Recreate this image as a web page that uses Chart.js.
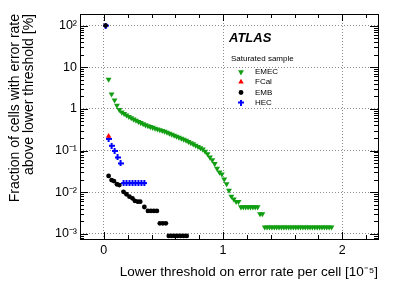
<!DOCTYPE html>
<html>
<head>
<meta charset="utf-8">
<script src="https://cdn.jsdelivr.net/npm/chart.js@4.4.0/dist/chart.umd.min.js"></script>
<style>
  html, body { margin: 0; padding: 0; background: #fff; }
</style>
</head>
<body>
<canvas id="errChart" width="399" height="286"></canvas>
<script>
// values
const emecX = [0.04, 0.065, 0.09, 0.11, 0.13,
  0.15, 0.17, 0.19, 0.21, 0.23, 0.25, 0.27, 0.29, 0.31, 0.33, 0.35, 0.37, 0.39, 0.41, 0.43, 0.45, 0.47, 0.49,
  0.51, 0.53, 0.55, 0.57, 0.59, 0.61, 0.63, 0.65, 0.67, 0.69, 0.71, 0.73, 0.75, 0.77, 0.79, 0.81, 0.83, 0.85,
  0.87, 0.89, 0.91, 0.93, 0.95, 0.97, 0.99, 1.01, 1.03, 1.05, 1.07, 1.09, 1.11, 1.13,
  1.15, 1.17, 1.19, 1.21, 1.23, 1.25, 1.27, 1.29, 1.31, 1.33,
  1.35, 1.37, 1.39, 1.41, 1.43, 1.45, 1.47, 1.49, 1.51, 1.53, 1.55, 1.57, 1.59, 1.61, 1.63, 1.65, 1.67, 1.69,
  1.71, 1.73, 1.75, 1.77, 1.79, 1.81, 1.83, 1.85, 1.87, 1.89, 1.91];
const emecY = [5.1, 2.25, 1.62, 1.21, 0.95,
  0.83, 0.766, 0.705, 0.652, 0.605, 0.562, 0.527, 0.494, 0.464, 0.437, 0.41, 0.389, 0.372, 0.356, 0.341, 0.327, 0.314, 0.301,
  0.287, 0.272, 0.257, 0.243, 0.230, 0.218, 0.206, 0.195, 0.185, 0.175, 0.164, 0.153, 0.143, 0.133, 0.124, 0.116, 0.107, 0.0955,
  0.083, 0.069, 0.059, 0.048, 0.037, 0.030, 0.027, 0.0204, 0.0158, 0.011, 0.0079, 0.0068, 0.0059, 0.0059,
  0.0044, 0.0044, 0.0044, 0.0044, 0.0044, 0.0044, 0.0044, 0.0044, 0.003, 0.003,
  0.00145, 0.00145, 0.00145, 0.00145, 0.00145, 0.00145, 0.00145, 0.00145, 0.00145, 0.00145, 0.00145, 0.00145, 0.00145, 0.00145,
  0.00145, 0.00145, 0.00145, 0.00145, 0.00145, 0.00145, 0.00145, 0.00145, 0.00145, 0.00145, 0.00145, 0.00145, 0.00145, 0.00145, 0.00145];

const fcalX = [0.04];
const fcalY = [0.22];

const embX = [0.015, 0.04, 0.065, 0.085, 0.11, 0.13, 0.165, 0.19, 0.215, 0.24, 0.26, 0.285, 0.305, 0.34,
  0.37, 0.395, 0.42, 0.445, 0.47, 0.495, 0.52, 0.545, 0.57, 0.595, 0.62, 0.645, 0.67, 0.695];
const embY = [100, 0.0245, 0.0195, 0.0185, 0.0155, 0.0148, 0.0102, 0.0089, 0.0078, 0.0071, 0.0062, 0.0059, 0.0059, 0.0044,
  0.00355, 0.00355, 0.00355, 0.00355, 0.00178, 0.00178, 0.00178, 0.00089, 0.00089, 0.00089, 0.00089, 0.00089, 0.00089, 0.00089];

const hecX = [0.015, 0.04, 0.065, 0.09, 0.115, 0.14, 0.165, 0.19, 0.215, 0.24, 0.265, 0.29, 0.315, 0.34];
const hecY = [100, 0.19, 0.13, 0.098, 0.068, 0.049, 0.0165, 0.0165, 0.0165, 0.0165, 0.0165, 0.0165, 0.0165, 0.0165];

const xTicks = [0, 1, 2];
const yTicks = [1e-3, 1e-2, 1e-1, 1, 10, 100];
const yTickLabels = ['10\u207B\u00B3', '10\u207B\u00B2', '10\u207B\u00B9', '1', '10', '10\u00B2'];

const FONT = '"Liberation Sans", Arial, Helvetica, sans-serif';

// filled plus marker for HEC (ROOT style 34)
function plusMarker(color) {
  const c = document.createElement('canvas');
  c.width = 6; c.height = 6;
  const g = c.getContext('2d');
  g.fillStyle = color;
  g.fillRect(2, 0, 2, 6);
  g.fillRect(0, 2, 6, 2);
  return c;
}
const hecMarker = plusMarker('#0000ff');

function pts(xs, ys) {
  return xs.map((x, i) => ({ x: x, y: ys[i] }));
}

const datasets = [
  { label: 'EMEC', data: pts(emecX, emecY), pointStyle: 'triangle', rotation: 180, radius: 3.4,
    backgroundColor: '#129e12', borderColor: '#129e12', borderWidth: 0 },
  { label: 'FCal', data: pts(fcalX, fcalY), pointStyle: 'triangle', rotation: 0, radius: 3.2,
    backgroundColor: '#ff0000', borderColor: '#ff0000', borderWidth: 0 },
  { label: 'EMB', data: pts(embX, embY), pointStyle: 'circle', radius: 2.4,
    backgroundColor: '#000000', borderColor: '#000000', borderWidth: 0 },
  { label: 'HEC', data: pts(hecX, hecY), pointStyle: hecMarker, radius: 3,
    backgroundColor: '#0000ff', borderColor: '#0000ff', borderWidth: 0 }
];

// inner ticks on all four sides + frame, ROOT style
const frameTicks = {
  id: 'frameTicks',
  afterDatasetsDraw(chart) {
    const ctx = chart.ctx;
    const a = chart.chartArea;
    const xs = chart.scales.x, ys = chart.scales.y;
    ctx.save();
    ctx.strokeStyle = '#000';
    ctx.lineWidth = 1;
    ctx.beginPath();
    // x ticks every 0.2, major at integers
    for (let k = -1; k <= 11; k++) {
      const v = k * 0.2;
      const px = Math.round(xs.getPixelForValue(v)) + 0.5;
      if (px < a.left || px > a.right) continue;
      const len = (k % 5 === 0) ? 7 : 4;
      ctx.moveTo(px, a.bottom); ctx.lineTo(px, a.bottom - len);
      ctx.moveTo(px, a.top); ctx.lineTo(px, a.top + len);
    }
    // y ticks: decades major, 2..9 minor
    for (let e = -4; e <= 2; e++) {
      for (let m = 1; m <= 9; m++) {
        const v = m * Math.pow(10, e);
        const py = Math.round(ys.getPixelForValue(v)) + 0.5;
        if (py < a.top || py > a.bottom) continue;
        const len = (m === 1) ? 8 : 4;
        ctx.moveTo(a.left, py); ctx.lineTo(a.left + len, py);
        ctx.moveTo(a.right, py); ctx.lineTo(a.right - len, py);
      }
    }
    ctx.stroke();
    ctx.strokeRect(Math.round(a.left) + 0.5, Math.round(a.top) + 0.5,
      Math.round(a.right - a.left), Math.round(a.bottom - a.top));
    ctx.restore();
  }
};

// legend box with ATLAS label, drawn inside the frame
const atlasLegend = {
  id: 'atlasLegend',
  afterDraw(chart) {
    const ctx = chart.ctx;
    ctx.save();
    ctx.fillStyle = '#000';
    ctx.textBaseline = 'middle';
    ctx.font = 'italic bold 13px ' + FONT;
    ctx.fillText('ATLAS', 229, 38);
    ctx.font = '8px ' + FONT;
    ctx.fillText('Saturated sample', 231, 59);
    const rows = [72, 82, 92.5, 102.5];
    chart.data.datasets.forEach((ds, i) => {
      ctx.fillStyle = ds.backgroundColor;
      ctx.strokeStyle = ds.borderColor;
      Chart.helpers.drawPoint(ctx, {
        pointStyle: ds.pointStyle, rotation: ds.rotation || 0,
        radius: ds.radius, borderWidth: 0
      }, 241, rows[i]);
      ctx.fillStyle = '#000';
      ctx.fillText(ds.label, 255, rows[i]);
    });
    ctx.restore();
  }
};

new Chart(document.getElementById('errChart'), {
  type: 'scatter',
  data: { datasets: datasets },
  plugins: [frameTicks, atlasLegend],
  options: {
    responsive: false,
    animation: false,
    layout: { padding: { top: 14, right: 21, left: 0, bottom: 0 } },
    plugins: { legend: { display: false }, tooltip: { enabled: false } },
    elements: { point: { hoverRadius: 0 } },
    scales: {
      x: {
        type: 'linear',
        min: -0.2,
        max: 2.3,
        afterBuildTicks: (s) => { s.ticks = xTicks.map(v => ({ value: v })); },
        afterFit: (s) => { s.height = 47; },
        grid: { color: '#8c8c8c', lineWidth: 1, drawTicks: false },
        border: { display: false, dash: [1, 2] },
        ticks: { color: '#000', padding: 4, font: { family: FONT, size: 12.5 },
          callback: (v) => String(v) },
        title: { display: true, align: 'end', text: 'Lower threshold on error rate per cell [10\u207B\u2075]',
          color: '#000', font: { family: FONT, size: 13.5 }, padding: { top: 6, bottom: 6 } }
      },
      y: {
        type: 'logarithmic',
        min: 7.5e-4,
        max: 190,
        afterBuildTicks: (s) => { s.ticks = yTicks.map(v => ({ value: v })); },
        afterFit: (s) => { s.width = 80; },
        grid: { color: '#8c8c8c', lineWidth: 1, drawTicks: false },
        border: { display: false, dash: [1, 2] },
        ticks: { color: '#000', padding: 3, font: { family: FONT, size: 12.5 },
          callback: (v) => {
            const i = yTicks.findIndex(t => Math.abs(Math.log10(t) - Math.log10(v)) < 1e-6);
            return i >= 0 ? yTickLabels[i] : '';
          } },
        title: { display: true, align: 'end',
          text: ['Fraction of cells with error rate', 'above lower threshold [%]'],
          color: '#000', font: { family: FONT, size: 14, lineHeight: 1.0 }, padding: { top: 8, bottom: 0 } }
      }
    }
  }
});
</script>
</body>
</html>
